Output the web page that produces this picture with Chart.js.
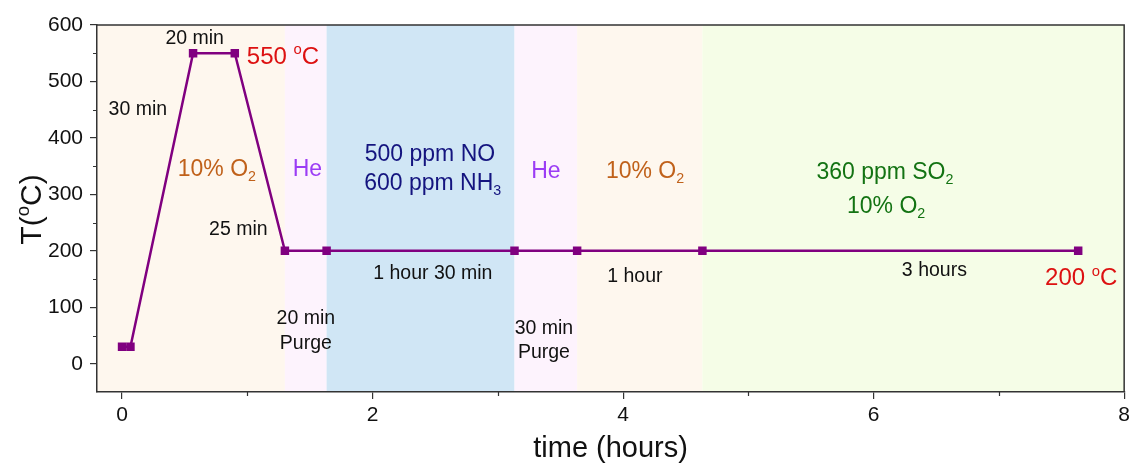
<!DOCTYPE html>
<html>
<head>
<meta charset="utf-8">
<script src="https://cdn.jsdelivr.net/npm/chart.js@4.4.0/dist/chart.umd.min.js"></script>
<style>
  html, body { margin: 0; padding: 0; background: #fff; }
</style>
</head>
<body>
<canvas id="chart" width="1134" height="465"></canvas>
<script>
// temperature programme: time in hours, temperature in degrees C
const timeHours = [0, 0.067, 0.567, 0.9, 1.3, 1.633, 3.133, 3.633, 4.633, 7.633];
const tempC = [30, 30, 550, 550, 200, 200, 200, 200, 200, 200];

const xTicks = [0, 2, 4, 6, 8];
const xMinorTicks = [1, 3, 5, 7];
const yTicks = [0, 100, 200, 300, 400, 500, 600];
const yMinorTicks = [50, 150, 250, 350, 450, 550];

// gas atmosphere bands (edges in hours)
const bandEdges = [-0.2, 1.3, 1.633, 3.133, 3.633, 4.633, 8];
const bandGas = ["o2", "he", "nonh3", "he", "o2", "so2"];

// labels placed in data coordinates; "_x" = subscript, "^x" = superscript
const labelText = ["20 min", "550 ^oC", "30 min", "10% O_2", "He", "25 min", "20 min", "Purge",
  "500 ppm NO", "600 ppm NH_3", "He", "10% O_2", "1 hour 30 min", "30 min", "Purge", "1 hour",
  "360 ppm SO_2", "10% O_2", "3 hours", "200 ^oC"];
const labelX = [0.58, 0.996, 0.126, 0.757, 1.48, 0.928, 1.467, 1.467,
  2.458, 2.48, 3.384, 4.175, 2.481, 3.368, 3.368, 4.094,
  6.09, 6.10, 6.485, 7.657];
const labelY = [579, 547, 453, 347, 347, 241, 83, 39,
  373, 322, 343, 343, 163, 65, 23, 157,
  342, 281, 168, 154];
const labelKind = ["step", "temp", "step", "o2", "he", "step", "step", "step",
  "nonh3", "nonh3", "he", "o2", "step", "step", "step", "step",
  "so2", "so2", "step", "temp"];

const FONT = "'Liberation Sans', Arial, sans-serif";
const bandColors = { o2: "#fef7ee", he: "#fdf3fd", nonh3: "#d0e6f5", so2: "#f5fde7" };
const labelStyle = {
  step: { color: "#111111", size: 19.5 },
  temp: { color: "#dd1111", size: 24 },
  o2: { color: "#c0611a", size: 23 },
  he: { color: "#9b3cf5", size: 23 },
  nonh3: { color: "#14147f", size: 23 },
  so2: { color: "#137313", size: 23 },
};

function splitParts(text) {
  const parts = [];
  let buf = "";
  for (let i = 0; i < text.length; i++) {
    const c = text[i];
    if ((c === "_" || c === "^") && i + 1 < text.length) {
      if (buf) parts.push({ t: buf, k: "n" });
      buf = "";
      parts.push({ t: text[i + 1], k: c === "_" ? "sub" : "sup" });
      i++;
    } else {
      buf += c;
    }
  }
  if (buf) parts.push({ t: buf, k: "n" });
  return parts;
}

// draw text with sub/superscripts, centred on (cx, cy) or left-aligned from cx
function drawRich(ctx, text, cx, cy, size, color, align) {
  const parts = splitParts(text);
  const small = size * 0.62;
  let total = 0;
  parts.forEach(p => {
    ctx.font = (p.k === "n" ? size : small) + "px " + FONT;
    p.w = ctx.measureText(p.t).width;
    total += p.w;
  });
  let x = align === "left" ? cx : cx - total / 2;
  const base = cy + size * 0.36;
  ctx.fillStyle = color;
  ctx.textAlign = "left";
  ctx.textBaseline = "alphabetic";
  parts.forEach(p => {
    ctx.font = (p.k === "n" ? size : small) + "px " + FONT;
    let y = base;
    if (p.k === "sub") y = base + size * 0.22;
    if (p.k === "sup") y = base - size * 0.38;
    ctx.fillText(p.t, x, y);
    x += p.w;
  });
}

const decorPlugin = {
  id: "decor",
  beforeDraw(chart) {
    const { ctx, chartArea: a, scales: { x } } = chart;
    ctx.save();
    for (let i = 0; i < bandGas.length; i++) {
      const x0 = x.getPixelForValue(bandEdges[i]);
      const x1 = x.getPixelForValue(bandEdges[i + 1]);
      ctx.fillStyle = bandColors[bandGas[i]];
      ctx.fillRect(x0, a.top, x1 - x0, a.bottom - a.top);
    }
    ctx.restore();
  },
  afterDraw(chart) {
    const { ctx, chartArea: a, scales: { x, y } } = chart;
    ctx.save();
    // box
    ctx.strokeStyle = "#333";
    ctx.lineWidth = 1.5;
    ctx.beginPath();
    ctx.moveTo(a.left, a.top);
    ctx.lineTo(a.right, a.top);
    ctx.lineTo(a.right, a.bottom);
    ctx.stroke();
    // minor ticks
    ctx.lineWidth = 1.2;
    ctx.beginPath();
    xMinorTicks.forEach(v => {
      const px = Math.round(x.getPixelForValue(v)) + 0.5;
      ctx.moveTo(px, a.bottom);
      ctx.lineTo(px, a.bottom + 4);
    });
    yMinorTicks.forEach(v => {
      const py = Math.round(y.getPixelForValue(v)) + 0.5;
      ctx.moveTo(a.left, py);
      ctx.lineTo(a.left - 4, py);
    });
    ctx.stroke();
    // annotations
    labelText.forEach((t, i) => {
      const st = labelStyle[labelKind[i]];
      const px = x.getPixelForValue(labelX[i]);
      const py = y.getPixelForValue(labelY[i]);
      drawRich(ctx, t, px, py, st.size, st.color, labelKind[i] === "temp" && t.startsWith("550") ? "left" : "center");
    });
    // axis titles
    drawRich(ctx, "time (hours)", (a.left + a.right) / 2, 447, 29, "#111");
    ctx.translate(30, (a.top + a.bottom) / 2 + 1);
    ctx.rotate(-Math.PI / 2);
    drawRich(ctx, "T(^oC)", 0, 0, 30, "#111");
    ctx.restore();
  }
};

new Chart(document.getElementById("chart"), {
  type: "line",
  data: {
    datasets: [{
      data: timeHours.map((t, i) => ({ x: t, y: tempC[i] })),
      borderColor: "#800080",
      backgroundColor: "#800080",
      borderWidth: 2.5,
      pointStyle: "rect",
      pointRadius: 6,
      pointBorderWidth: 0,
      pointBackgroundColor: "#800080",
      tension: 0,
    }]
  },
  options: {
    responsive: false,
    animation: false,
    events: [],
    layout: { padding: { left: 0, right: 9, top: 25, bottom: 0 } },
    plugins: { legend: { display: false }, tooltip: { enabled: false } },
    scales: {
      x: {
        type: "linear",
        min: -0.2,
        max: 8,
        afterBuildTicks: s => { s.ticks = xTicks.map(v => ({ value: v })); },
        afterFit: s => { s.height = 73; },
        grid: { drawOnChartArea: false, drawTicks: true, tickLength: 7, color: "#333", lineWidth: 1.2 },
        border: { display: true, color: "#333", width: 1.5 },
        ticks: { font: { family: FONT, size: 21 }, color: "#111", padding: 4, maxRotation: 0 },
      },
      y: {
        type: "linear",
        min: -50,
        max: 600,
        afterBuildTicks: s => { s.ticks = yTicks.map(v => ({ value: v })); },
        afterFit: s => { s.width = 97; },
        grid: { drawOnChartArea: false, drawTicks: true, tickLength: 7, color: "#333", lineWidth: 1.2 },
        border: { display: true, color: "#333", width: 1.5 },
        ticks: { font: { family: FONT, size: 21 }, color: "#111", padding: 7 },
      }
    }
  },
  plugins: [decorPlugin]
});
</script>
</body>
</html>
